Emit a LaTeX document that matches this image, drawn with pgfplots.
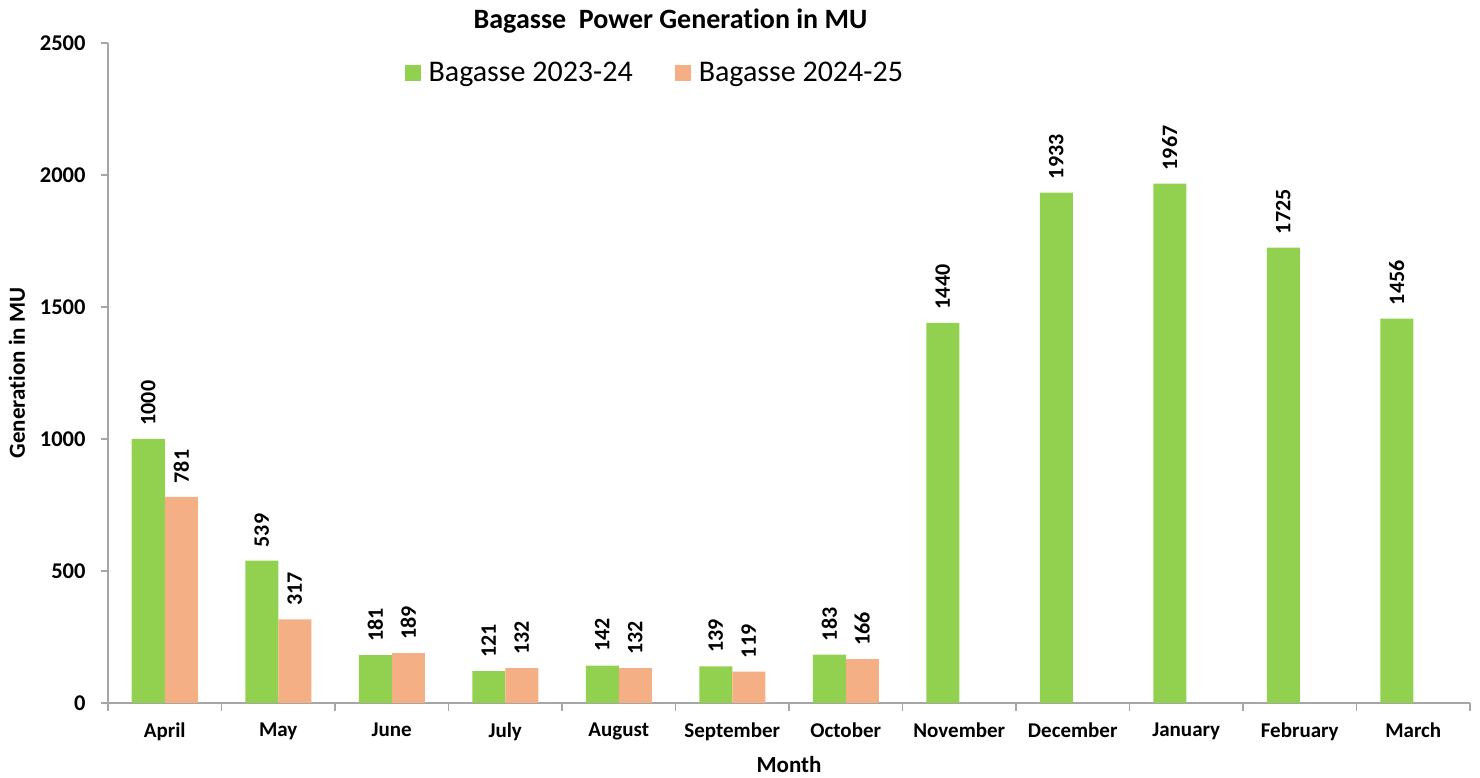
\documentclass[border=0pt]{standalone}
\usepackage{fontspec}
\setmainfont{Carlito}[Ligatures=NoCommon]
\usepackage{pgfplots}
\pgfplotsset{compat=1.18}
\definecolor{bgreen}{RGB}{146,208,80}
\definecolor{borange}{RGB}{244,176,132}
\definecolor{axgray}{RGB}{166,166,166}
\begin{document}
\begin{tikzpicture}[x=1pt,y=1pt]
\useasboundingbox (0,0) rectangle (1480,778);
\begin{axis}[
  at={(108pt,75pt)}, anchor=south west,
  scale only axis, width=1362pt, height=660pt,
  xmin=-0.5, xmax=11.5, ymin=0, ymax=2500,
  axis lines*=left,
  axis line style={axgray, line width=1.2pt},
  xtick={0,...,11},
  xticklabels={April,May,June,July,August,September,October,November,December,January,February,March},
  major x tick style={draw=none},
  minor xtick={-0.5,0.5,...,11.5},
  minor tick length=8pt,
  minor x tick style={axgray, line width=1.2pt},
  ytick={0,500,1000,1500,2000,2500},
  major tick length=7pt,
  y tick style={axgray, line width=1.2pt},
  tick align=outside,
  tick pos=lower,
  /pgf/number format/assume math mode=true,
  /pgf/number format/set thousands separator={},
  ticklabel style={font=\fontsize{21}{24}\selectfont\bfseries},
  yticklabel style={font=\fontsize{22.5}{26}\selectfont\bfseries, xshift=-12pt},
  xticklabel style={yshift=-9pt},
  xlabel={Month},
  ylabel={Generation in MU},
  xlabel style={font=\fontsize{23}{26}\selectfont\bfseries, yshift=-9pt},
  ylabel style={font=\fontsize{23}{26}\selectfont\bfseries, yshift=8pt},
  title={Bagasse\ \ Power Generation in MU},
  title style={font=\fontsize{28}{32}\selectfont\bfseries, at={(0.413,1)}, anchor=south, yshift=0pt},
  ybar, bar width=33pt,
  legend columns=2,
  legend style={draw=none, fill=none, at={(0.2154,0.955)}, anchor=west,
    font=\fontsize{30}{34}\selectfont,
    /tikz/every even column/.append style={column sep=40pt}},
  legend image code/.code={\fill[#1] (0pt,-8pt) rectangle (16pt,8pt); \path (0pt,0pt) -- (22pt,0pt);},
  nodes near coords,
  every node near coord/.append style={rotate=90, anchor=west, font=\fontsize{22}{24}\selectfont\bfseries, xshift=10pt, /pgf/number format/assume math mode=true},
]
\addplot[fill=bgreen, draw=none, bar shift=-16.5pt] coordinates {
(0,1000) (1,539) (2,181) (3,121) (4,142) (5,139) (6,183) (7,1440) (8,1933) (9,1967) (10,1725) (11,1456)};
\addplot[fill=borange, draw=none, bar shift=16.5pt] coordinates {
(0,781) (1,317) (2,189) (3,132) (4,132) (5,119) (6,166)};
\legend{Bagasse 2023-24, Bagasse 2024-25}
\end{axis}
\end{tikzpicture}
\end{document}
